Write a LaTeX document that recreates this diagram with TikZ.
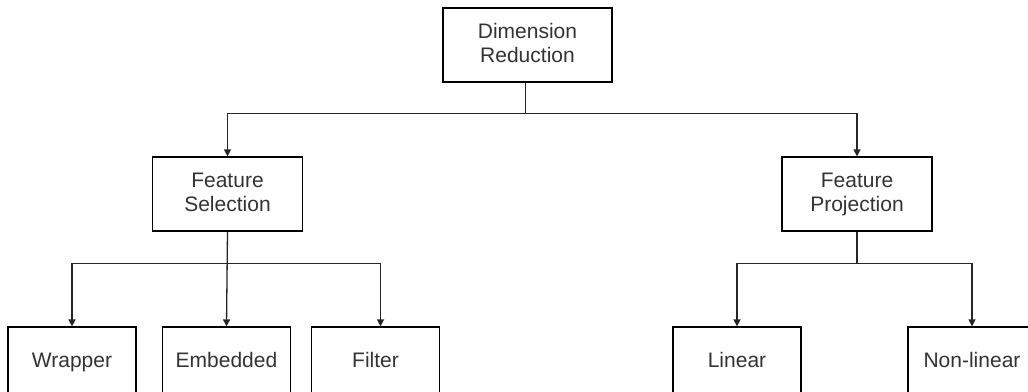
\documentclass[tikz,border=0pt]{standalone}
\usepackage{fontspec}
\setmainfont{Liberation Sans}
\usetikzlibrary{arrows.meta,calc}
\definecolor{boxtext}{HTML}{333333}
% a strut spanning cap height and descender depth, so lines centre on their letters
\newcommand{\capstrut}{\rule[-4.6pt]{0pt}{19.7pt}}
\newcommand{\twolines}[2]{\capstrut#1\\\capstrut#2}
\tikzset{
  box/.style={draw=black, line width=1.2pt, rectangle, inner sep=0pt,
    align=center, text=boxtext, font=\fontsize{21}{24}\selectfont},
  midbox/.style={box, minimum width=#1, minimum height=74pt},
  leafbox/.style={box, minimum width=128pt, minimum height=70pt,
    text height=15pt, text depth=4.6pt},
  link/.style={draw=black!85, line width=1.3pt},
  arrowlink/.style={link, -{Triangle[width=7pt,length=7pt]}}
}
\begin{document}
\begin{tikzpicture}[x=1pt,y=-1pt]
\useasboundingbox (0,0) rectangle (1028,391);

% boxes
\node[midbox=169pt] (root) at (527.5,45) {\twolines{Dimension}{Reduction}};
\node[midbox=150pt] (sel)  at (227.5,194) {\twolines{Feature}{Selection}};
\node[midbox=150pt] (proj) at (857,194)   {\twolines{Feature}{Projection}};
\node[leafbox] (wrap)  at (72,362)    {Wrapper};
\node[leafbox] (emb)   at (226.5,362) {Embedded};
\node[leafbox] (filt)  at (375.5,362) {Filter};
\node[leafbox] (lin)   at (737,362)   {Linear};
\node[leafbox] (nonlin) at (972,362)  {Non-linear};

% branching levels
\coordinate (rootbus) at (0,113.5);
\coordinate (leafbus) at (0,263.5);
\coordinate (rootdrop) at ($(root.south)+(-2,0)$);
\coordinate (filttop) at ($(filt.north)+(5,0)$);

% connectors
\draw[arrowlink] (rootdrop) |- (rootbus -| sel) -- (sel.north);
\draw[arrowlink] (rootdrop) |- (rootbus -| proj) -- (proj.north);

\draw[arrowlink] (sel.south) |- (leafbus -| wrap) -- (wrap.north);
\draw[arrowlink] (sel.south) -- (emb.north);
\draw[arrowlink] (sel.south) |- (leafbus -| filttop) -- (filttop);

\draw[arrowlink] (proj.south) |- (leafbus -| lin) -- (lin.north);
\draw[arrowlink] (proj.south) |- (leafbus -| nonlin) -- (nonlin.north);
\end{tikzpicture}
\end{document}
